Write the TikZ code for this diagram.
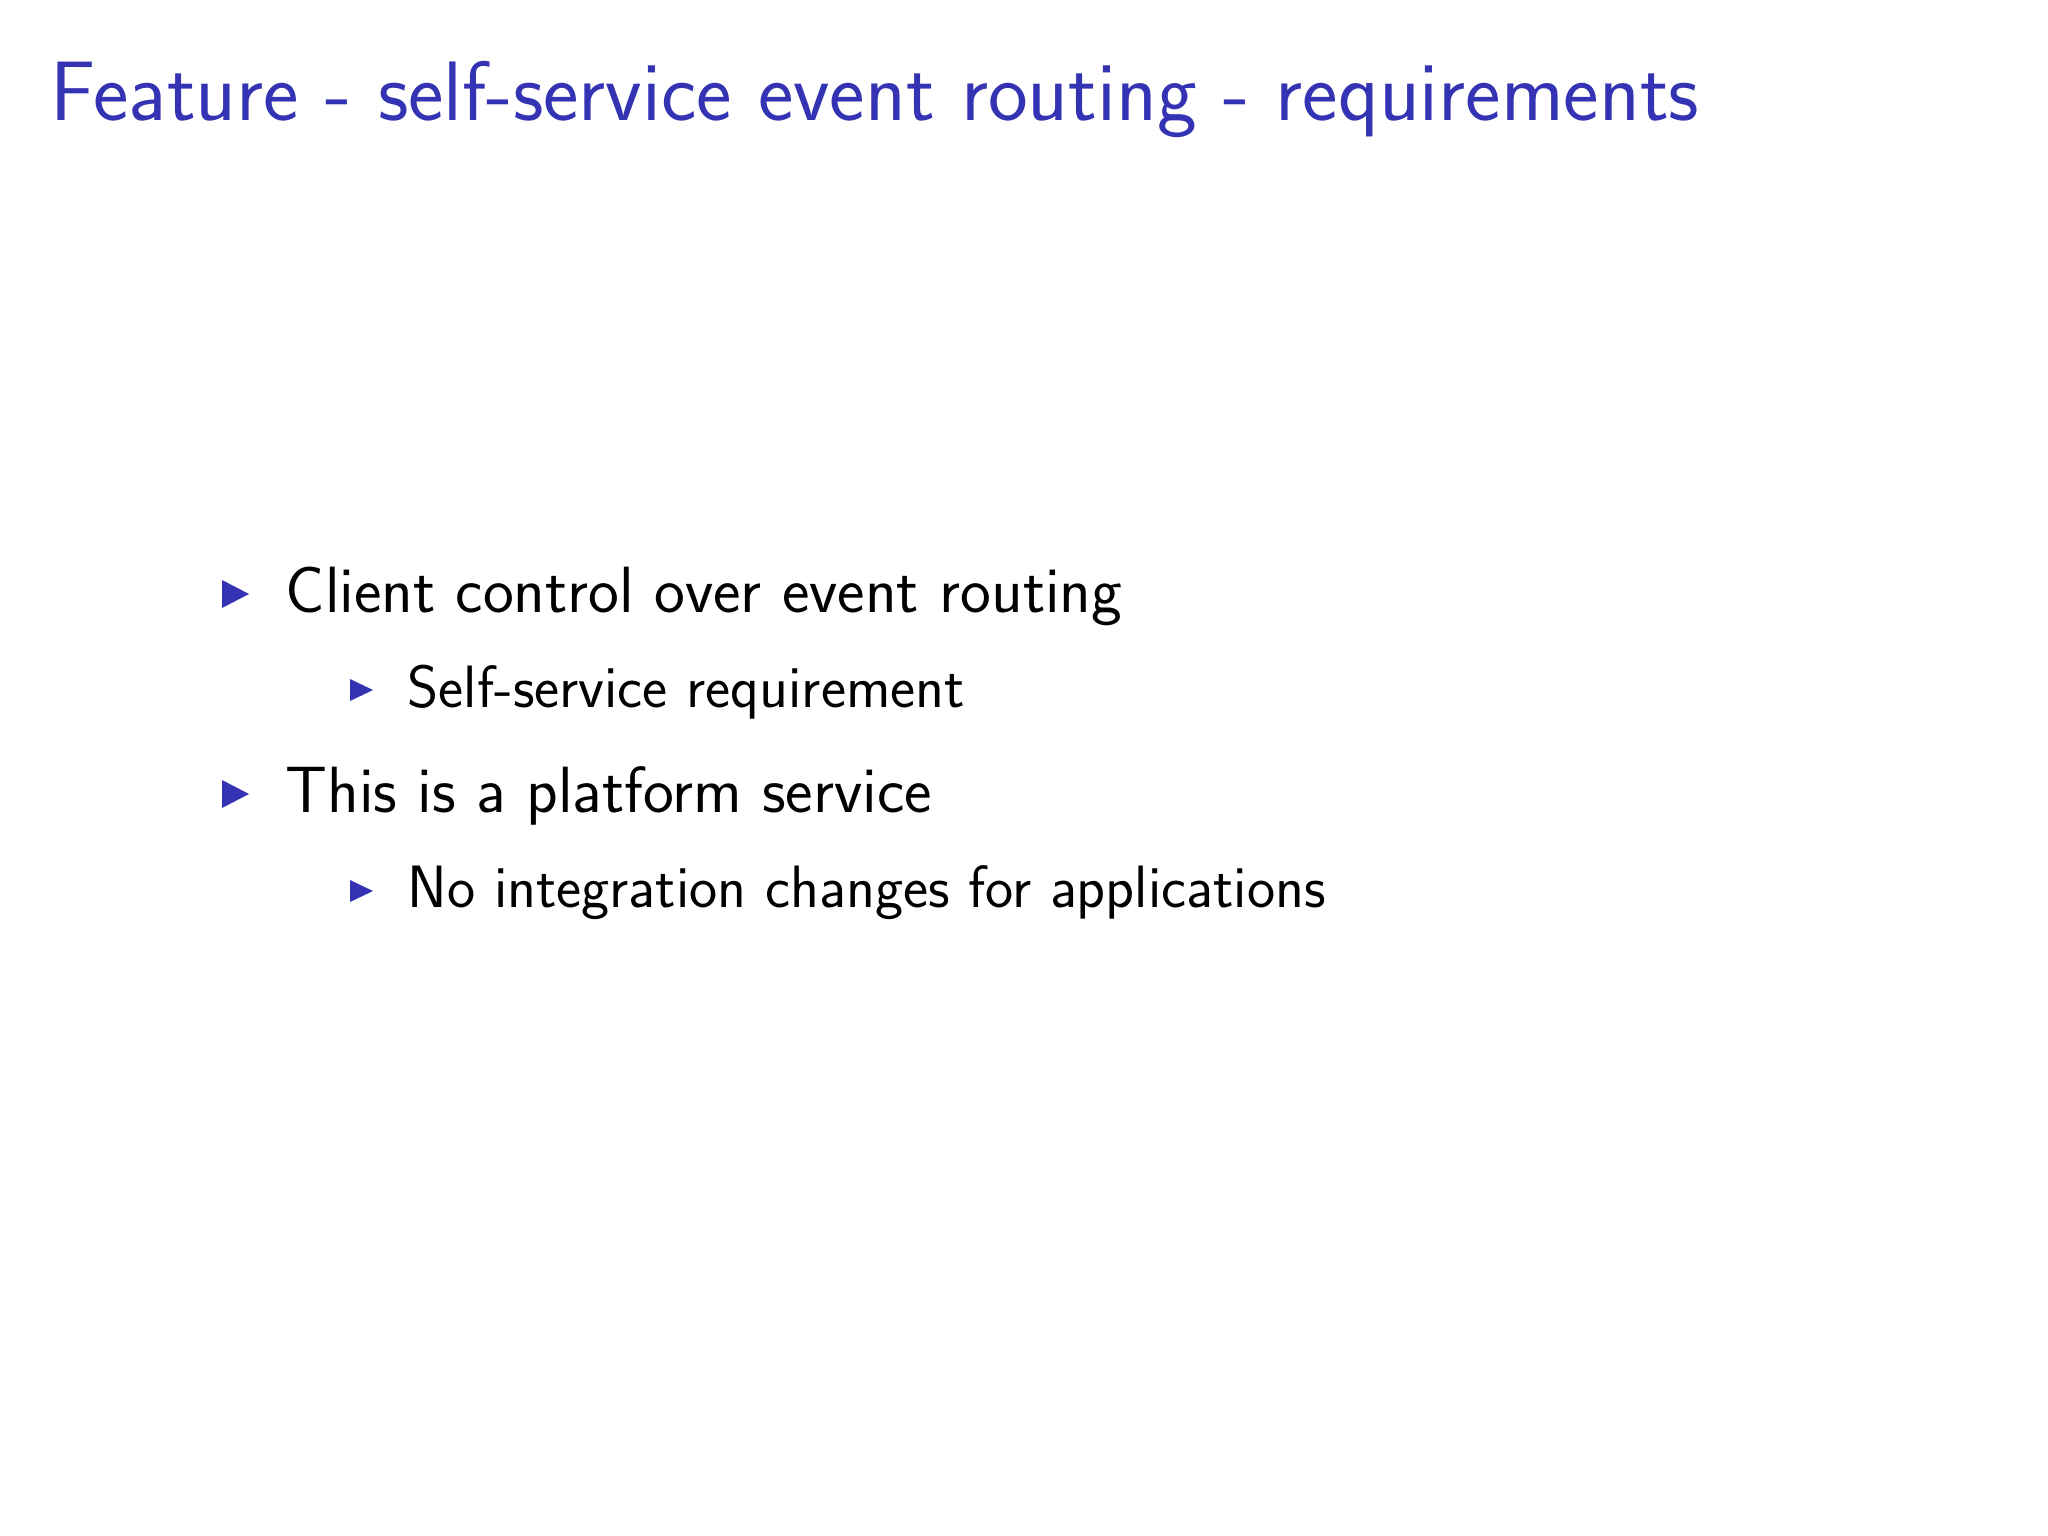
\documentclass[tikz,border=0pt]{standalone}
\usepackage{fontspec}
\setmainfont{Latin Modern Sans}
\definecolor{bblue}{RGB}{51,51,179}
\begin{document}
\begin{tikzpicture}[x=0.01cm,y=-0.01cm,
  lone/.style={anchor=base west,inner sep=0pt,font=\fontsize{18.6}{22}\selectfont},
  ltwo/.style={anchor=base west,inner sep=0pt,font=\fontsize{17}{20}\selectfont},
  ttl/.style={anchor=base west,inner sep=0pt,text=bblue,font=\fontsize{24}{29}\selectfont}]
\fill[white] (0,0) rectangle (2048,1536);
\useasboundingbox (0,0) rectangle (2048,1536);
\node[ttl] (title) at (50,120) {Feature - self-service event routing - requirements};
\node[lone] (a) at (285,612) {Client control over event routing};
\node[ltwo] (a1) at (407,707) {Self-service requirement};
\node[lone] (b) at (285,812) {This is a platform service};
\node[ltwo] (b1) at (407,907) {No integration changes for applications};
\fill[bblue] (222,580) -- (249,594) -- (222,608) -- cycle;
\fill[bblue] (222,780) -- (249,794) -- (222,808) -- cycle;
\fill[bblue] (350,679) -- (373,690) -- (350,701) -- cycle;
\fill[bblue] (350,880) -- (373,891) -- (350,902) -- cycle;
\end{tikzpicture}
\end{document}
